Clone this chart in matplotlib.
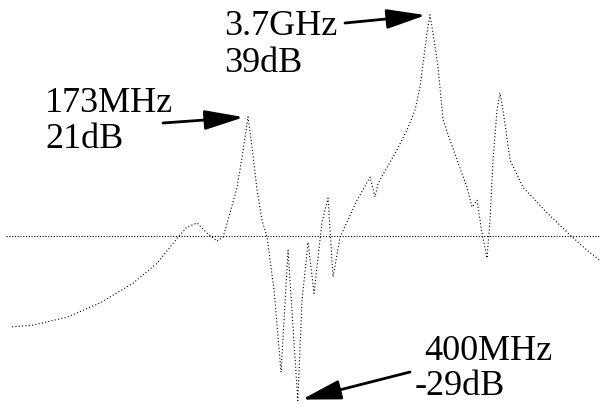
import matplotlib
matplotlib.use('Agg')
import matplotlib.pyplot as plt

# frequency response (MHz, dB)
freq_mhz = [3.26, 4.64, 8.23, 14.3, 25.0, 37.4, 53.3, 62.0, 73.4, 86.9,
            102.8, 113.7, 127.9, 143.9, 156.5, 164.6, 173.0, 185.1, 201.4, 219.0,
            238.4, 268.0, 301.7, 339.5, 400.0, 429.5, 475.3, 525.8, 601.5, 665.6,
            724.0, 814.6, 1084, 1349, 1468, 1545, 2125, 2515, 2878, 3131,
            3523, 3700, 3896, 4239, 4613, 5187, 5837, 6906, 7512, 8170,
            8888, 9668, 10170, 10700, 11440, 12030, 12650, 14250, 17740, 26550,
            39080, 52030, 64000]
gain_db = [-16.0, -15.7, -14.3, -11.8, -8.3, -4.8, -0.2, 1.6, 2.3, 0.5,
           -0.9, -0.2, 4.1, 8.6, 13.9, 17.5, 21.0, 15.7, 8.1, 2.8,
           -0.2, -9.5, -24.0, -2.5, -29.0, -11.3, -1.1, -10.1, 2.5, 6.7,
           -7.2, -0.2, 6.3, 10.4, 6.9, 9.3, 15.2, 18.7, 22.2, 26.3,
           35.8, 39.0, 35.8, 29.8, 20.5, 16.9, 13.4, 8.6, 5.1, 6.3,
           0.5, -3.9, 2.8, 13.4, 22.2, 25.2, 22.2, 13.4, 8.6, 4.1,
           0.2, -2.5, -4.2]

# annotated points: (freq MHz, dB, label lines)
marks = [(173.0, 21.0, '173MHz', '21dB'),
         (3700.0, 39.0, '3.7GHz', '39dB'),
         (400.0, -29.0, '400MHz', '-29dB')]

plt.rcParams['font.family'] = ['Liberation Serif', 'DejaVu Serif']

fig = plt.figure(figsize=(6.0, 4.04), dpi=100)
ax = fig.add_axes([0, 0, 1, 1])
ax.set_xscale('log')
ax.set_xlim(2.66, 64770)
ax.set_ylim(-29.6, 41.6)
ax.axis('off')

ax.hlines(0, 2.95, freq_mhz[-1], color='black', lw=0.8, linestyle=(0, (1, 1.5)))
ax.plot(freq_mhz, gain_db, color='black', lw=0.8, linestyle=(0, (1, 2)))

# label layout in figure pixels: line1 (x, baseline), line2 (x, baseline), arrow tail
layout = [((45, 112), (45, 148), (163, 123)),
          ((224, 35), (224, 72), (345, 23)),
          ((424, 360), (415, 395), (410, 372))]

H = 404
for (f, db, l1, l2), (p1, p2, tail) in zip(marks, layout):
    fig.text(p1[0] / 600, 1 - p1[1] / H, l1, fontsize=26, va='baseline', ha='left')
    fig.text(p2[0] / 600, 1 - p2[1] / H, l2, fontsize=26, va='baseline', ha='left')
    ax.annotate('', xy=(f, db), xytext=(tail[0], H - tail[1]),
                textcoords='figure pixels',
                arrowprops=dict(arrowstyle='-|>,head_length=24,head_width=6',
                                mutation_scale=1, lw=2, color='black',
                                shrinkA=0, shrinkB=3))

fig.savefig('out.png', dpi=100)
